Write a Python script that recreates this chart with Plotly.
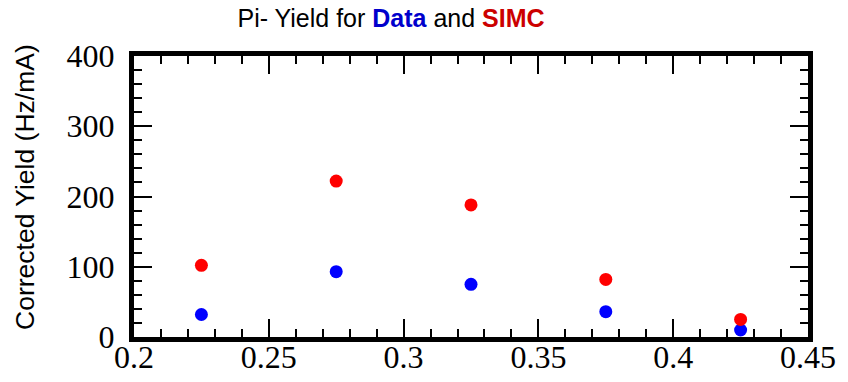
import plotly.graph_objects as go

x_vals = [0.225, 0.275, 0.325, 0.375, 0.425]
data_yield = [32, 93, 75, 36, 10]
simc_yield = [102, 222, 188, 82, 25]

fig = go.Figure()
fig.add_trace(go.Scatter(x=x_vals, y=data_yield, mode="markers", name="Data",
                         marker=dict(color="#0000ff", size=13)))
fig.add_trace(go.Scatter(x=x_vals, y=simc_yield, mode="markers", name="SIMC",
                         marker=dict(color="#ff0000", size=13)))

axis_common = dict(showline=True, linewidth=5, linecolor="black", mirror="allticks",
                   ticks="inside", tickwidth=2, ticklen=18, tickcolor="black",
                   showgrid=False, zeroline=False, automargin=False,
                   tickfont=dict(family="Liberation Serif", size=32, color="black"))

fig.update_layout(
    width=840, height=374,
    paper_bgcolor="white", plot_bgcolor="white",
    showlegend=False,
    margin=dict(l=126, r=40, t=48, b=45),
    title=dict(text="Pi- Yield for <b><span style='color:#0000cc'>Data</span></b> and <b><span style='color:#cc0000'>SIMC</span></b>",
               x=0.456, xanchor="center", y=0.973, yanchor="middle", automargin=False,
               font=dict(family="Liberation Sans", size=25, color="black")),
    xaxis=dict(range=[0.2, 0.45], tickvals=[0.2, 0.25, 0.3, 0.35, 0.4, 0.45],
               ticktext=["0.2", "0.25", "0.3", "0.35", "0.4", "0.45"],
               minor=dict(dtick=0.01, ticks="inside", ticklen=8, tickwidth=2, tickcolor="black"),
               ticklabelstandoff=-12,
               **axis_common),
    yaxis=dict(range=[0, 400], tickvals=[0, 100, 200, 300, 400],
               minor=dict(dtick=20, ticks="inside", ticklen=8, tickwidth=2, tickcolor="black"),
               ticklabelstandoff=8,
               **axis_common),
    annotations=[dict(text="Corrected Yield (Hz/mA)", textangle=-90, showarrow=False,
                      xref="paper", yref="paper", x=-0.1617, y=0.534,
                      xanchor="center", yanchor="middle",
                      font=dict(family="Liberation Sans", size=26.5, color="black"))],
)

fig.write_html("out.html")
